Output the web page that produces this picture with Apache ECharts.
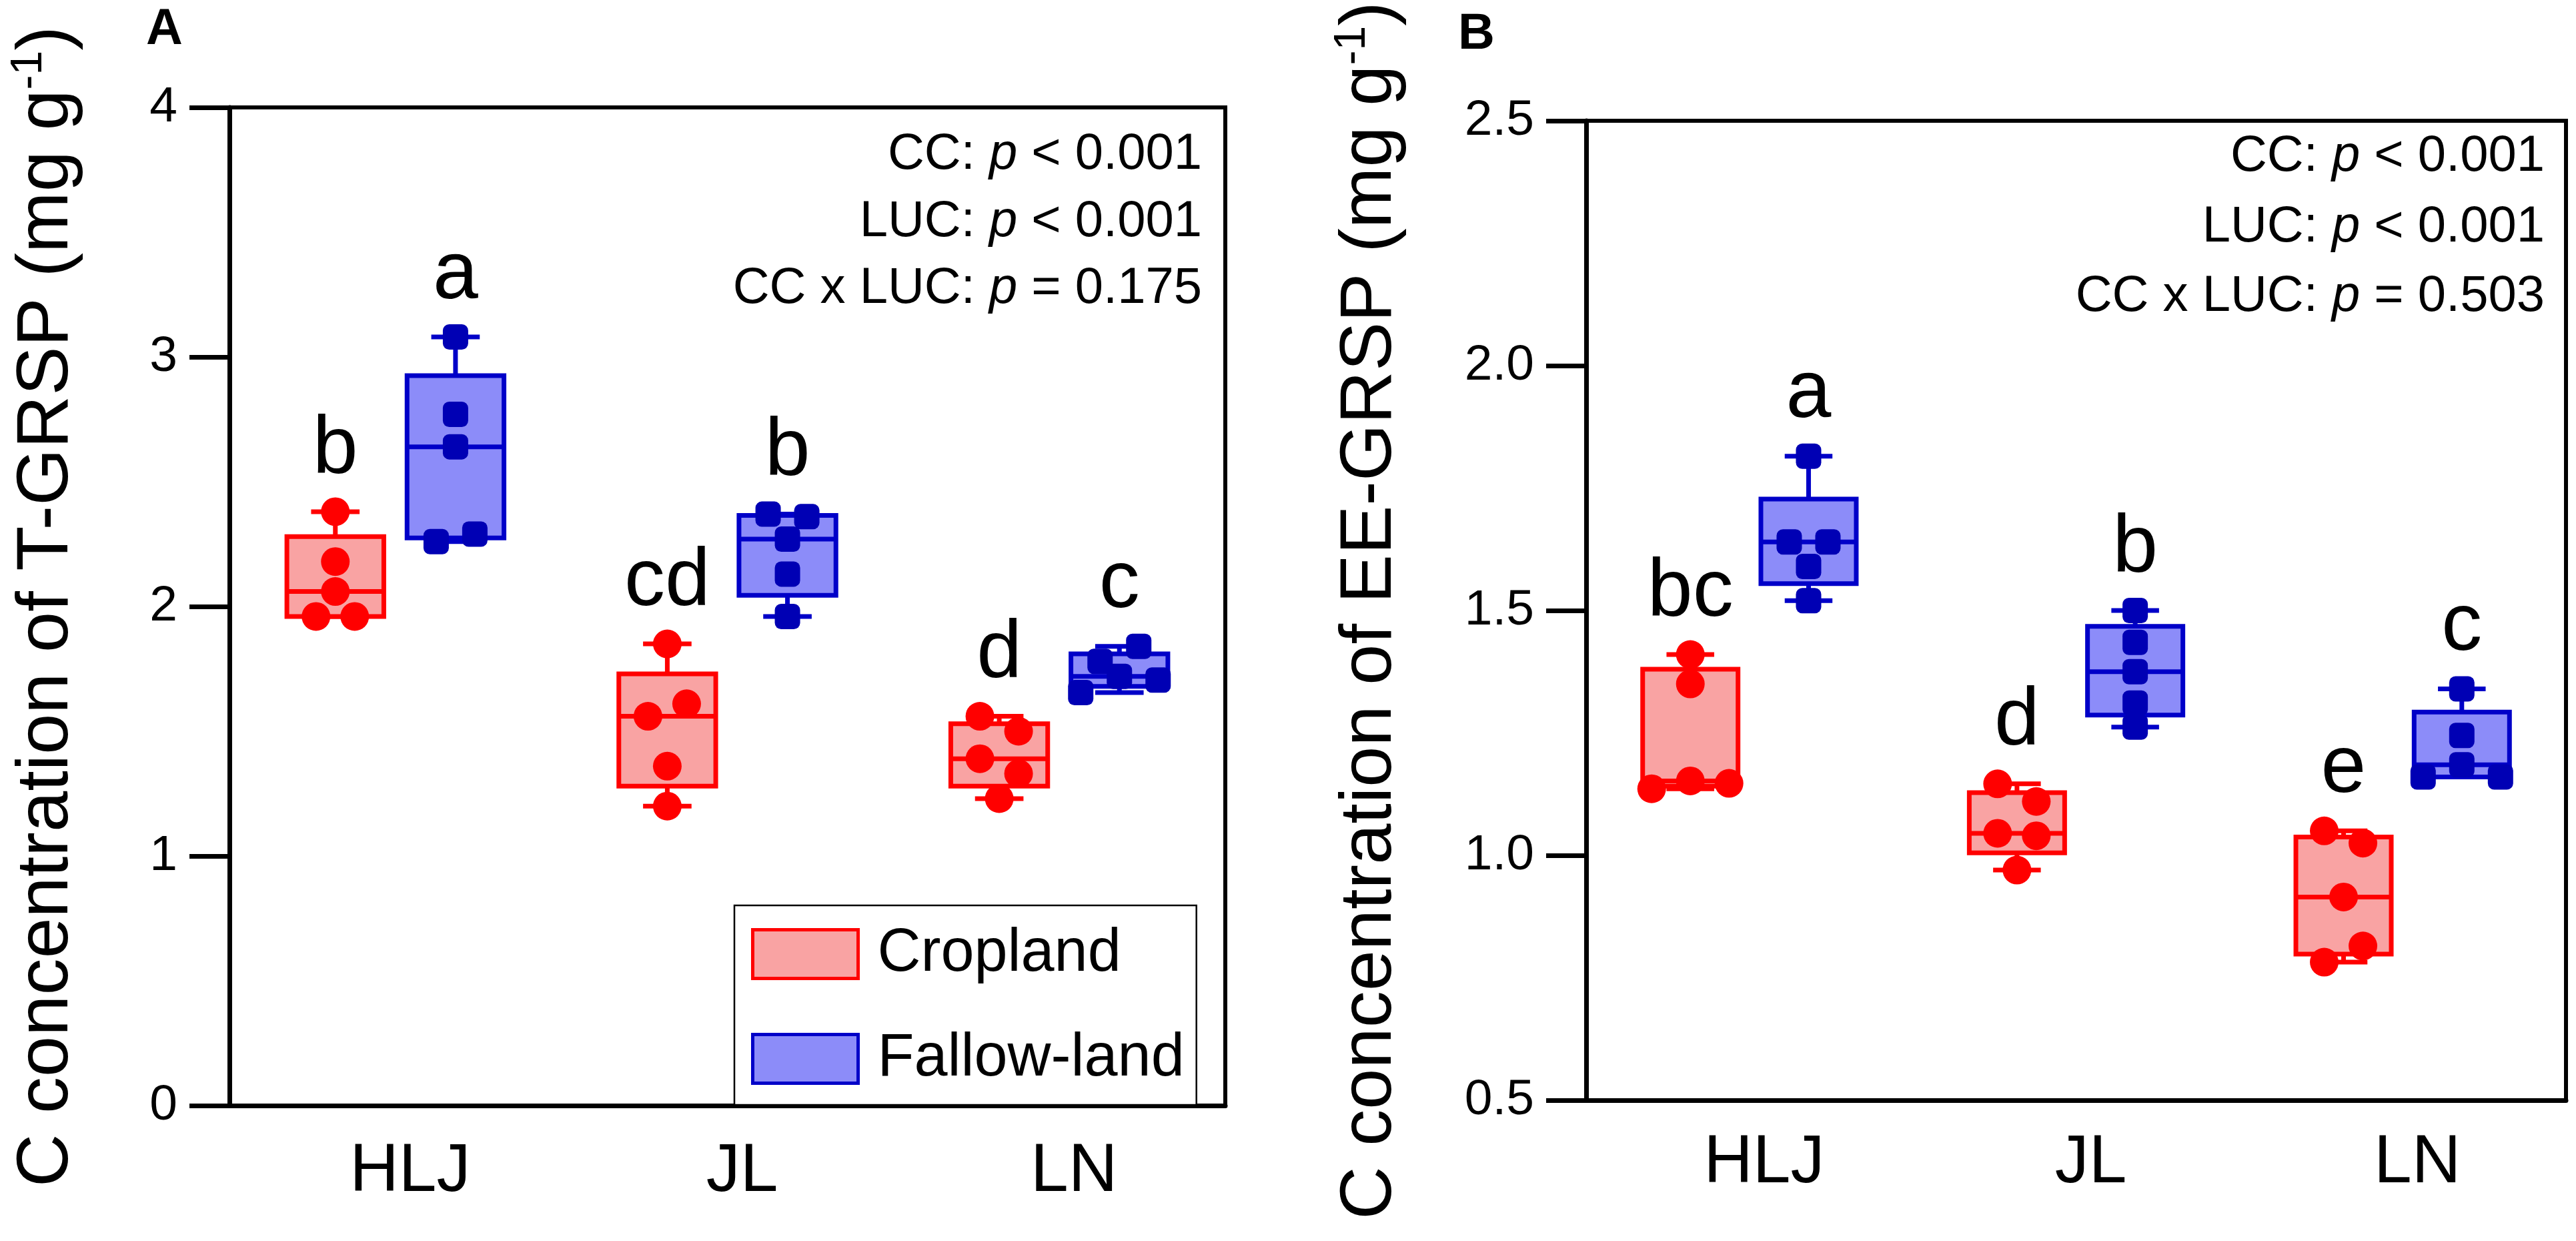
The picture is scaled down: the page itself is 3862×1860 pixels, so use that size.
<!DOCTYPE html>
<html>
<head>
<meta charset="utf-8">
<script src="https://cdn.jsdelivr.net/npm/echarts@6/dist/echarts.min.js"></script>
<style>
  html, body { margin: 0; background: #fff; }
  #main { width: 3862px; height: 1860px; }
</style>
</head>
<body>
<div id="main"></div>
<script>
// categories
const sites = ['HLJ', 'JL', 'LN']

// T-GRSP (mg g-1), five replicates per site
// order inside a list = left-to-right order when points share a row
const tgrspCrop = [
  [2.38, 2.18, 2.06, 1.96, 1.96],
  [1.85, 1.56, 1.61, 1.36, 1.20],
  [1.56, 1.50, 1.39, 1.33, 1.23]
]
const tgrspFallow = [
  [3.08, 2.77, 2.64, 2.26, 2.29],
  [2.37, 2.36, 2.27, 2.13, 1.96],
  [1.78, 1.84, 1.655, 1.72, 1.705]
]
// EE-GRSP (mg g-1)
const eeCrop = [
  [1.41, 1.35, 1.136, 1.152, 1.147],
  [1.146, 1.11, 1.045, 1.04, 0.97],
  [1.05, 1.025, 0.915, 0.782, 0.815]
]
const eeFallow = [
  [1.815, 1.64, 1.64, 1.59, 1.52],
  [1.50, 1.435, 1.375, 1.311, 1.262],
  [1.34, 1.245, 1.16, 1.185, 1.16]
]

// significance letters
const tgrspCropLetters = ['b', 'cd', 'd']
const tgrspFallowLetters = ['a', 'b', 'c']
const eeCropLetters = ['bc', 'd', 'e']
const eeFallowLetters = ['a', 'b', 'c']

// y ticks
const tgrspTicks = [0, 1, 2, 3, 4]
const tgrspTickLabels = ['0', '1', '2', '3', '4']
const eeTicks = [0.5, 1.0, 1.5, 2.0, 2.5]
const eeTickLabels = ['0.5', '1.0', '1.5', '2.0', '2.5']

// ANOVA results: [text before p, text after p]
const tgrspP = [['CC: ', ' < 0.001'], ['LUC: ', ' < 0.001'], ['CC x LUC: ', ' = 0.175']]
const eeP = [['CC: ', ' < 0.001'], ['LUC: ', ' < 0.001'], ['CC x LUC: ', ' = 0.503']]

const FONT = 'Liberation Sans'
const cropLine = '#FF0000', cropFill = '#F9A3A3', cropDot = '#FF0000'
const fallowLine = '#0000C8', fallowFill = '#8C8CF9', fallowDot = '#0000B4'
const LINE_W = 7
const GROUP_SHIFT = 0.181   // box centre offset, fraction of band
const BOX_FRAC = 0.292      // box width, fraction of band
const ROW_GAP = 31          // px: points closer than this share a row
const ROW_STEP = 58         // px between points of one row

const panels = [
  {
    grid: { left: 344, top: 161, width: 1493, height: 1496 },
    ticks: tgrspTicks, tickLabels: tgrspTickLabels,
    name: 'T-GRSP', crop: tgrspCrop, fallow: tgrspFallow,
    cropLetters: tgrspCropLetters, fallowLetters: tgrspFallowLetters,
    pvals: tgrspP, pRight: 1802, pBase: [258, 359, 459],
    nameGap: 213, xMargin: 49, tag: 'A', tagX: 219, tagY: 7
  },
  {
    grid: { left: 2378, top: 181, width: 1469, height: 1468 },
    ticks: eeTicks, tickLabels: eeTickLabels,
    name: 'EE-GRSP', crop: eeCrop, fallow: eeFallow,
    cropLetters: eeCropLetters, fallowLetters: eeFallowLetters,
    pvals: eeP, pRight: 3815, pBase: [261, 367, 471],
    nameGap: 263, xMargin: 44, tag: 'B', tagX: 2186, tagY: 14
  }
]

function quantile(sorted, p) {
  let r = p * (sorted.length + 1) - 1
  r = Math.max(0, Math.min(sorted.length - 1, r))
  const lo = Math.floor(r), hi = Math.ceil(r)
  return sorted[lo] + (sorted[hi] - sorted[lo]) * (r - lo)
}

function boxStats(groups) {
  return groups.map((vals, i) => {
    const s = vals.slice().sort((a, b) => a - b)
    return [i, s[0], quantile(s, 0.25), quantile(s, 0.5), quantile(s, 0.75), s[s.length - 1]]
  })
}

// spread points that sit at almost the same height into a centred row
function rowOffsets(vals, pxPerUnit) {
  const idx = vals.map((v, i) => i).sort((a, b) => vals[b] - vals[a])
  const rows = []
  idx.forEach(i => {
    const row = rows[rows.length - 1]
    if (row && (vals[row[0]] - vals[i]) * pxPerUnit < ROW_GAP) row.push(i)
    else rows.push([i])
  })
  const off = new Array(vals.length).fill(0)
  rows.forEach(row => {
    row.sort((a, b) => a - b)
    row.forEach((i, k) => { off[i] = (k - (row.length - 1) / 2) * ROW_STEP })
  })
  return off
}

function boxRenderer(side, band, line, fill, letters) {
  return function (params, api) {
    const c = api.value(0)
    const x = api.coord([c, api.value(3)])[0] + side * band * GROUP_SHIFT
    const y = v => api.coord([c, v])[1]
    const yMin = y(api.value(1)), yQ1 = y(api.value(2)), yMed = y(api.value(3))
    const yQ3 = y(api.value(4)), yMax = y(api.value(5))
    const half = band * BOX_FRAC / 2, cap = half / 2
    const st = { stroke: line, lineWidth: LINE_W }
    return {
      type: 'group',
      children: [
        { type: 'line', shape: { x1: x, y1: yMax, x2: x, y2: yQ3 }, style: st },
        { type: 'line', shape: { x1: x, y1: yQ1, x2: x, y2: yMin }, style: st },
        { type: 'line', shape: { x1: x - cap, y1: yMax, x2: x + cap, y2: yMax }, style: st },
        { type: 'line', shape: { x1: x - cap, y1: yMin, x2: x + cap, y2: yMin }, style: st },
        { type: 'rect', shape: { x: x - half, y: yQ3, width: half * 2, height: yQ1 - yQ3 },
          style: { fill: fill, stroke: line, lineWidth: LINE_W } },
        { type: 'line', shape: { x1: x - half, y1: yMed, x2: x + half, y2: yMed }, style: st },
        { type: 'text', x: x, y: yMax - 31,
          style: { text: letters[params.dataIndex], fontSize: 122, fontFamily: FONT, fill: '#000',
                   align: 'center', verticalAlign: 'bottom' } }
      ]
    }
  }
}

const grids = [], xAxes = [], yAxes = [], series = [], graphics = []

panels.forEach((p, pi) => {
  const yMin = p.ticks[0], yMax = p.ticks[p.ticks.length - 1]
  const band = p.grid.width / sites.length
  const pxPerUnit = p.grid.height / (yMax - yMin)

  grids.push(Object.assign({ show: true, borderColor: '#000', borderWidth: 6, backgroundColor: 'transparent' }, p.grid))

  xAxes.push({
    type: 'category', gridIndex: pi, data: sites,
    axisLine: { lineStyle: { color: '#000', width: LINE_W } },
    axisTick: { show: false },
    axisLabel: { fontSize: 102, fontFamily: FONT, color: '#000', margin: p.xMargin, padding: [0, 0, 0, 44] }
  })

  yAxes.push({
    type: 'value', gridIndex: pi, min: yMin, max: yMax, interval: p.ticks[1] - p.ticks[0],
    splitLine: { show: false },
    axisLine: { show: true, lineStyle: { color: '#000', width: LINE_W } },
    axisTick: { show: true, length: 60, lineStyle: { color: '#000', width: LINE_W } },
    axisLabel: {
      fontSize: 75, fontFamily: FONT, color: '#000', margin: 78,
      formatter: v => p.tickLabels[p.ticks.findIndex(t => Math.abs(t - v) < 1e-9)] ?? ''
    },
    name: '{t|C concentration of ' + p.name + ' (mg g}{s|-1}{t|)}',
    nameLocation: 'middle', nameGap: p.nameGap,
    nameTextStyle: {
      fontSize: 110, fontFamily: FONT, color: '#000',
      rich: {
        t: { fontSize: 110, fontFamily: FONT, color: '#000', lineHeight: 120 },
        s: { fontSize: 66, fontFamily: FONT, color: '#000', verticalAlign: 'top', lineHeight: 120 }
      }
    }
  })

  const groups = [
    { name: 'Cropland', side: -1, vals: p.crop, letters: p.cropLetters, line: cropLine, fill: cropFill, dot: cropDot, symbol: 'circle', size: 43 },
    { name: 'Fallow-land', side: 1, vals: p.fallow, letters: p.fallowLetters, line: fallowLine, fill: fallowFill, dot: fallowDot, symbol: 'roundRect', size: 38 }
  ]

  groups.forEach(g => {
    series.push({
      type: 'custom', name: g.name, xAxisIndex: pi, yAxisIndex: pi,
      data: boxStats(g.vals),
      encode: { x: 0, y: [1, 2, 3, 4, 5] },
      itemStyle: { color: g.fill, borderColor: g.line },
      renderItem: boxRenderer(g.side, band, g.line, g.fill, g.letters),
      silent: true
    })
  })

  groups.forEach(g => {
    const pts = []
    g.vals.forEach((vals, ci) => {
      const off = rowOffsets(vals, pxPerUnit)
      vals.forEach((v, k) => {
        pts.push({ value: [ci, v], symbolOffset: [g.side * band * GROUP_SHIFT + off[k], 0] })
      })
    })
    series.push({
      type: 'scatter', name: g.name, xAxisIndex: pi, yAxisIndex: pi,
      data: pts, symbol: g.symbol, symbolSize: g.size,
      itemStyle: { color: g.dot, opacity: 1 },
      silent: true, z: 3
    })
  })

  // panel tag
  graphics.push({
    type: 'text', x: p.tagX, y: p.tagY,
    style: { text: p.tag, fontSize: 76, fontWeight: 'bold', fontFamily: FONT, fill: '#000', align: 'left', verticalAlign: 'top' }
  })
  // ANOVA text
  p.pvals.forEach((pv, li) => {
    graphics.push({
      type: 'text', x: p.pRight, y: p.pBase[li] - 26,
      style: {
        text: '{n|' + pv[0] + '}{i|p}{n|' + pv[1] + '}',
        align: 'right', verticalAlign: 'middle', fill: '#000',
        fontSize: 76, fontFamily: FONT,
        rich: {
          n: { fontSize: 76, fontFamily: FONT, fill: '#000' },
          i: { fontSize: 76, fontFamily: FONT, fontStyle: 'italic', fill: '#000' }
        }
      }
    })
  })
})

const chart = echarts.init(document.getElementById('main'))
chart.setOption({
  backgroundColor: '#fff',
  animation: false,
  grid: grids,
  xAxis: xAxes,
  yAxis: yAxes,
  legend: {
    orient: 'vertical', left: 1101, top: 1357,
    itemWidth: 158, itemHeight: 73, itemGap: 67,
    padding: [28, 18, 24, 25],
    borderColor: '#000', borderWidth: 2.5, backgroundColor: '#fff',
    selectedMode: false,
    textStyle: { fontSize: 90, fontFamily: FONT, color: '#000', lineHeight: 73, padding: [0, 0, 0, 24] },
    data: [
      { name: 'Cropland', icon: 'rect', itemStyle: { color: cropFill, borderColor: cropLine, borderWidth: 5 } },
      { name: 'Fallow-land', icon: 'rect', itemStyle: { color: fallowFill, borderColor: fallowLine, borderWidth: 5 } }
    ]
  },
  graphic: graphics,
  series: series
})
</script>
</body>
</html>
